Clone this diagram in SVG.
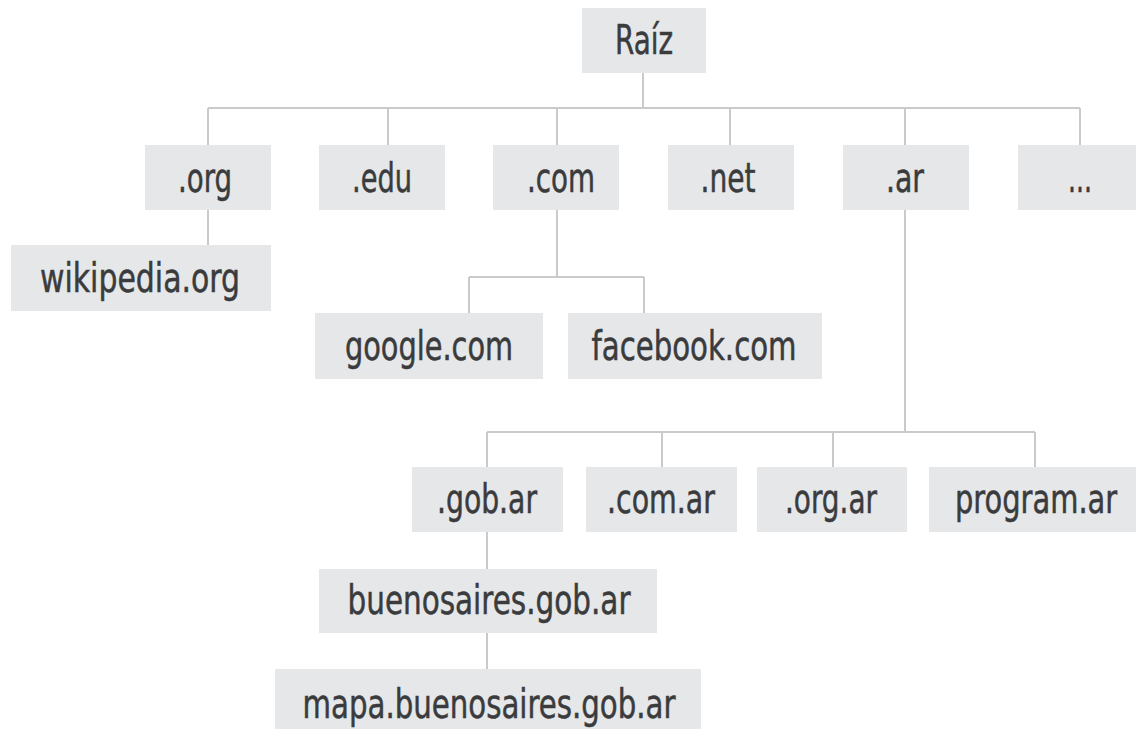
<svg xmlns="http://www.w3.org/2000/svg" width="1136" height="729" viewBox="0 0 1136 729">
  <style>
    .box { fill: #e6e7e8; }
    .lbl { font-family: "Liberation Sans Narrow", "DejaVu Sans Condensed", "Liberation Sans", sans-serif; font-stretch: condensed; font-size: 40px; fill: #3a3b3d; stroke: #3a3b3d; stroke-width: 0.5; text-anchor: middle; }
    .wire { fill: none; stroke: #c9cacc; stroke-width: 2; }
  </style>
  <rect width="1136" height="729" fill="#ffffff"/>

  <!-- tree connectors -->
  <g id="connectors">
    <path class="wire" d="M643 73 V108 M208 108 H1080 M208 108 V145 M388 108 V145 M557 108 V145 M730 108 V145 M905 108 V145 M1080 108 V145"/>
    <path class="wire" d="M208 210 V245"/>
    <path class="wire" d="M557 210 V277 M469 277 H644 M469 277 V313 M644 277 V313"/>
    <path class="wire" d="M905 210 V432 M487 432 H1035 M487 432 V467 M662 432 V467 M833 432 V467 M1035 432 V467"/>
    <path class="wire" d="M487 532 V569 M487 633 V669"/>
  </g>

  <g id="raiz">
    <rect class="box" x="582" y="8" width="124" height="65"/>
    <text class="lbl" x="644" y="54" textLength="58" lengthAdjust="spacingAndGlyphs">Raíz</text>
  </g>

  <g id="org">
    <rect class="box" x="145" y="145" width="126" height="65"/>
    <text class="lbl" x="205" y="192" textLength="54" lengthAdjust="spacingAndGlyphs">.org</text>
  </g>
  <g id="edu">
    <rect class="box" x="319" y="145" width="126" height="65"/>
    <text class="lbl" x="382" y="192" textLength="60" lengthAdjust="spacingAndGlyphs">.edu</text>
  </g>
  <g id="com">
    <rect class="box" x="493" y="145" width="126" height="65"/>
    <text class="lbl" x="561" y="192" textLength="68" lengthAdjust="spacingAndGlyphs">.com</text>
  </g>
  <g id="net">
    <rect class="box" x="668" y="145" width="126" height="65"/>
    <text class="lbl" x="728" y="192" textLength="55" lengthAdjust="spacingAndGlyphs">.net</text>
  </g>
  <g id="ar">
    <rect class="box" x="843" y="145" width="126" height="65"/>
    <text class="lbl" x="905" y="192" textLength="38" lengthAdjust="spacingAndGlyphs">.ar</text>
  </g>
  <g id="more">
    <rect class="box" x="1018" y="145" width="118" height="65"/>
    <text class="lbl" x="1080" y="192" textLength="24" lengthAdjust="spacingAndGlyphs">...</text>
  </g>

  <g id="wikipedia">
    <rect class="box" x="11" y="245" width="260" height="66"/>
    <text class="lbl" x="140" y="292" textLength="200" lengthAdjust="spacingAndGlyphs">wikipedia.org</text>
  </g>

  <g id="google">
    <rect class="box" x="315" y="313" width="228" height="66"/>
    <text class="lbl" x="429" y="360" textLength="168" lengthAdjust="spacingAndGlyphs">google.com</text>
  </g>
  <g id="facebook">
    <rect class="box" x="568" y="313" width="254" height="66"/>
    <text class="lbl" x="694" y="360" textLength="205" lengthAdjust="spacingAndGlyphs">facebook.com</text>
  </g>

  <g id="gob-ar">
    <rect class="box" x="412" y="467" width="151" height="65"/>
    <text class="lbl" x="487" y="513" textLength="100" lengthAdjust="spacingAndGlyphs">.gob.ar</text>
  </g>
  <g id="com-ar">
    <rect class="box" x="586" y="467" width="151" height="65"/>
    <text class="lbl" x="661" y="513" textLength="108" lengthAdjust="spacingAndGlyphs">.com.ar</text>
  </g>
  <g id="org-ar">
    <rect class="box" x="757" y="467" width="150" height="65"/>
    <text class="lbl" x="831" y="513" textLength="92" lengthAdjust="spacingAndGlyphs">.org.ar</text>
  </g>
  <g id="program-ar">
    <rect class="box" x="929" y="467" width="207" height="65"/>
    <!-- narrowed horizontally so the label stays clear of the right edge -->
    <text class="lbl" x="0" y="0" style="text-anchor:start" transform="translate(955 513) scale(0.804 1)">program.ar</text>
  </g>

  <g id="buenosaires">
    <rect class="box" x="319" y="569" width="338" height="64"/>
    <text class="lbl" x="489" y="614" textLength="283" lengthAdjust="spacingAndGlyphs">buenosaires.gob.ar</text>
  </g>
  <g id="mapa">
    <rect class="box" x="275" y="669" width="426" height="60"/>
    <text class="lbl" x="489" y="718" textLength="373" lengthAdjust="spacingAndGlyphs">mapa.buenosaires.gob.ar</text>
  </g>
</svg>
